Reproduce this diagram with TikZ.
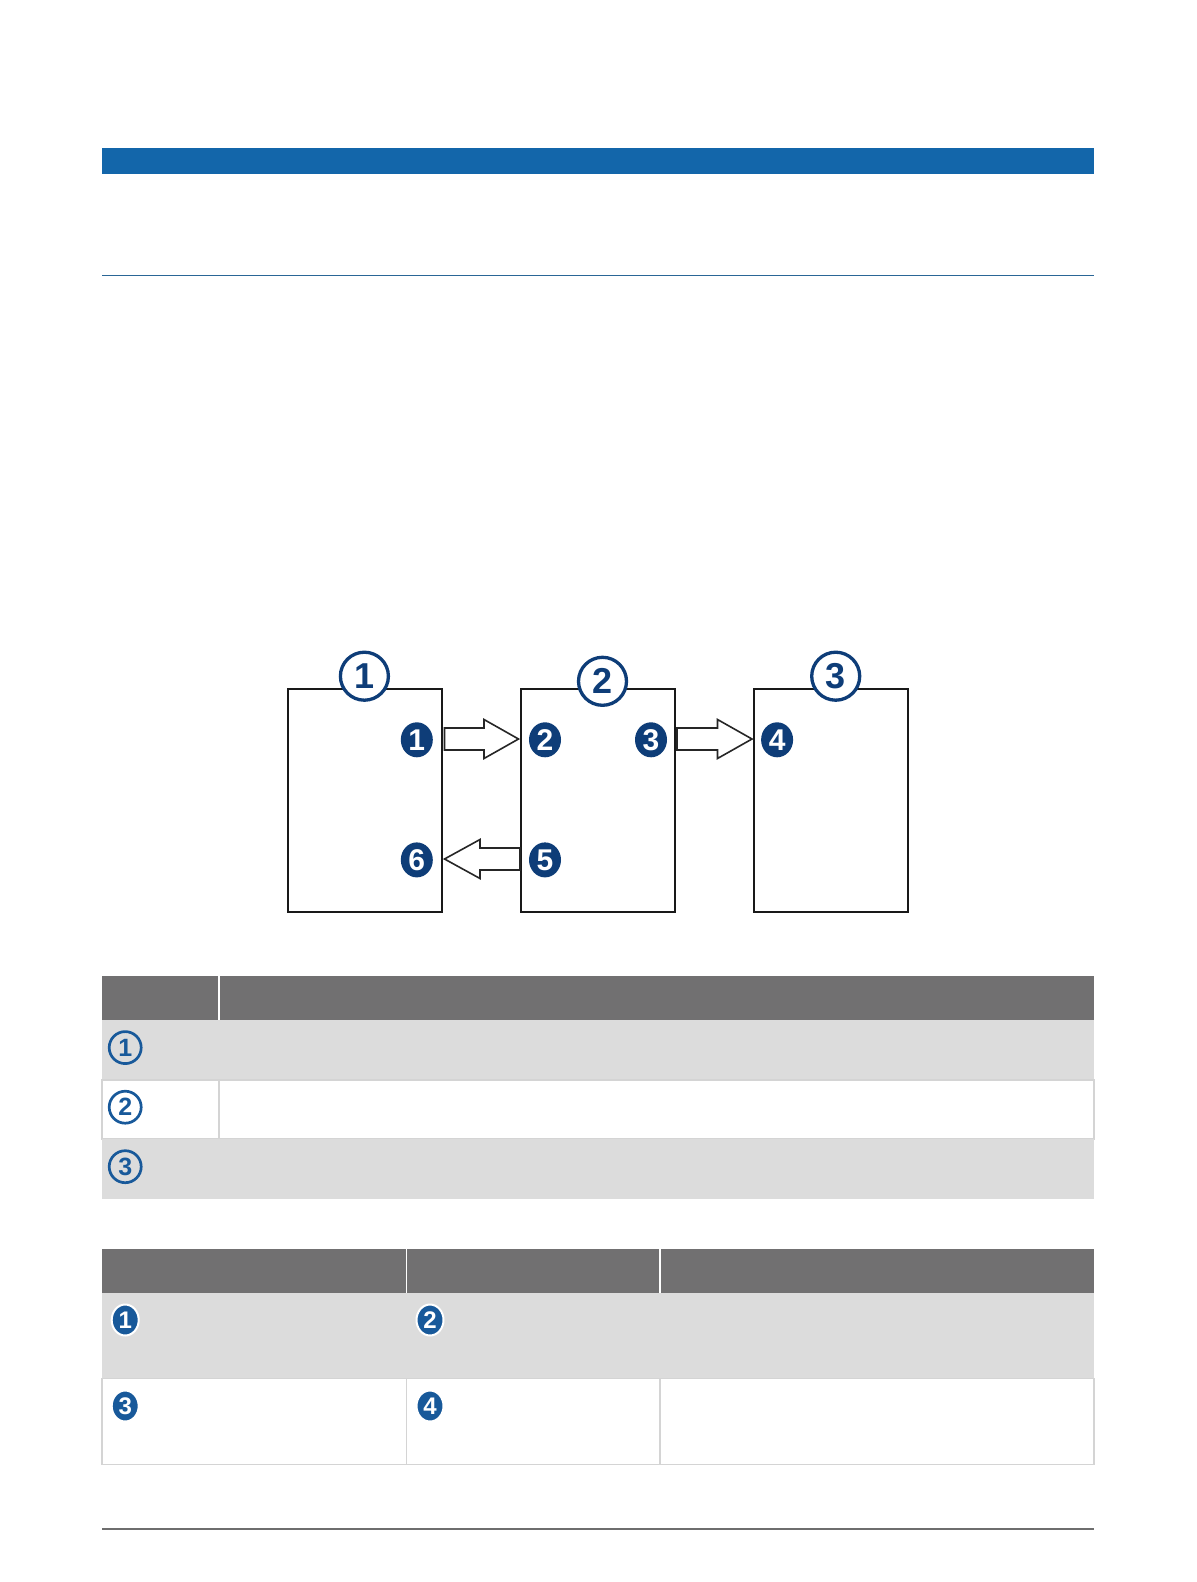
\documentclass[tikz,border=0pt]{standalone}
\usepackage{fontspec}
\setmainfont{Liberation Sans}
\usetikzlibrary{shapes.geometric}
\definecolor{barblue}{HTML}{1366AA}
\definecolor{lineblue}{HTML}{2A6696}
\definecolor{hdrgray}{HTML}{717071}
\definecolor{rowgray}{HTML}{DCDCDC}
\definecolor{bordergray}{HTML}{D4D4D4}
\definecolor{navy}{HTML}{0E3D78}
\definecolor{tblue}{HTML}{18599A}
\definecolor{footgray}{HTML}{6E6E6E}
\tikzset{
  box/.style={draw=black!90, line width=1pt, fill=white, minimum width=77pt, minimum height=111.5pt, inner sep=0pt},
  bignum/.style={circle, draw=navy, line width=1.65pt, fill=white, minimum size=24pt, inner sep=0pt, text=navy, font=\bfseries\fontsize{18}{18}\selectfont},
  dotnum/.style={ellipse, fill=navy, minimum width=16pt, minimum height=17.5pt, inner sep=0pt, text=white, font=\bfseries\fontsize{15}{15}\selectfont},
  tabnum/.style={circle, draw=tblue, line width=1.35pt, fill=none, minimum size=16pt, inner sep=0pt, text=tblue, font=\bfseries\fontsize{12.5}{12.5}\selectfont},
  tabdot/.style={ellipse, fill=tblue, draw=white, line width=1pt, minimum width=13.5pt, minimum height=15.5pt, inner sep=0pt, text=white, font=\bfseries\fontsize{12}{12}\selectfont},
  blockarrow/.style={draw=black!85, line width=0.8pt, fill=white, line join=miter},
}
\begin{document}
\begin{tikzpicture}[x=0.5pt, y=-0.5pt]
\useasboundingbox (0,0) rectangle (1196,1582);
\fill[white] (0,0) rectangle (1196,1582);
% header bar and rule
\fill[barblue] (102,148) rectangle (1094,174);
\draw[lineblue, line width=0.7pt] (102,275.5) -- (1094,275.5);
% footer rule
\draw[footgray, line width=1pt] (102,1529) -- (1094,1529);

% diagram boxes
\node[box] (b1) at (364.8,800.5) {};
\node[box] (b2) at (598,800.5) {};
\node[box] (b3) at (831,800.5) {};
% big circled numbers
\node[bignum] (c1) at (364.4,676.2) {1};
\node[bignum] (c2) at (602.5,681.3) {2};
\node[bignum] (c3) at (835.7,676.2) {3};
% small filled numbers
\node[dotnum] (n1) at (416.8,739.8) {1};
\node[dotnum] (n2) at (545,739.8) {2};
\node[dotnum] (n3) at (651,739.8) {3};
\node[dotnum] (n4) at (777.1,739.8) {4};
\node[dotnum] (n5) at (545,859.9) {5};
\node[dotnum] (n6) at (416.8,859.9) {6};
% block arrows
\draw[blockarrow] (444.5,728) -- (484,728) -- (484,719.5) -- (518.5,739) -- (484,758.5) -- (484,750) -- (444.5,750) -- cycle;
\draw[blockarrow] (677,728) -- (717.5,728) -- (717.5,719.5) -- (752,739) -- (717.5,758.5) -- (717.5,750) -- (677,750) -- cycle;
\draw[blockarrow] (520,848) -- (480,848) -- (480,839.5) -- (444.5,859) -- (480,878.5) -- (480,870) -- (520,870) -- cycle;

% table 1
\fill[hdrgray] (102,976) rectangle (1094,1020);
\draw[white, line width=0.6pt] (219,976) -- (219,1020);
\fill[rowgray] (102,1020) rectangle (1094,1080);
\draw[bordergray, line width=0.6pt] (102,1080) rectangle (1094,1139);
\draw[bordergray, line width=0.6pt] (219,1080) -- (219,1139);
\fill[rowgray] (102,1139) rectangle (1094,1199);
\node[tabnum] (t1) at (125.2,1047.6) {1};
\node[tabnum] (t2) at (125.2,1107.2) {2};
\node[tabnum] (t3) at (125.2,1166.7) {3};

% table 2
\fill[hdrgray] (102,1248.5) rectangle (1094,1293);
\draw[white, line width=0.6pt] (406.7,1248.5) -- (406.7,1293);
\draw[white, line width=0.6pt] (660,1248.5) -- (660,1293);
\fill[rowgray] (102,1293) rectangle (1094,1378.6);
\draw[bordergray, line width=0.6pt] (102,1378.6) rectangle (1094,1464.4);
\draw[bordergray, line width=0.6pt] (406.7,1378.6) -- (406.7,1464.4);
\draw[bordergray, line width=0.6pt] (660,1378.6) -- (660,1464.4);
\node[tabdot] (s1) at (125.2,1320) {1};
\node[tabdot] (s2) at (430,1320) {2};
\node[tabdot] (s3) at (125.2,1406) {3};
\node[tabdot] (s4) at (430,1406) {4};
\end{tikzpicture}
\end{document}
